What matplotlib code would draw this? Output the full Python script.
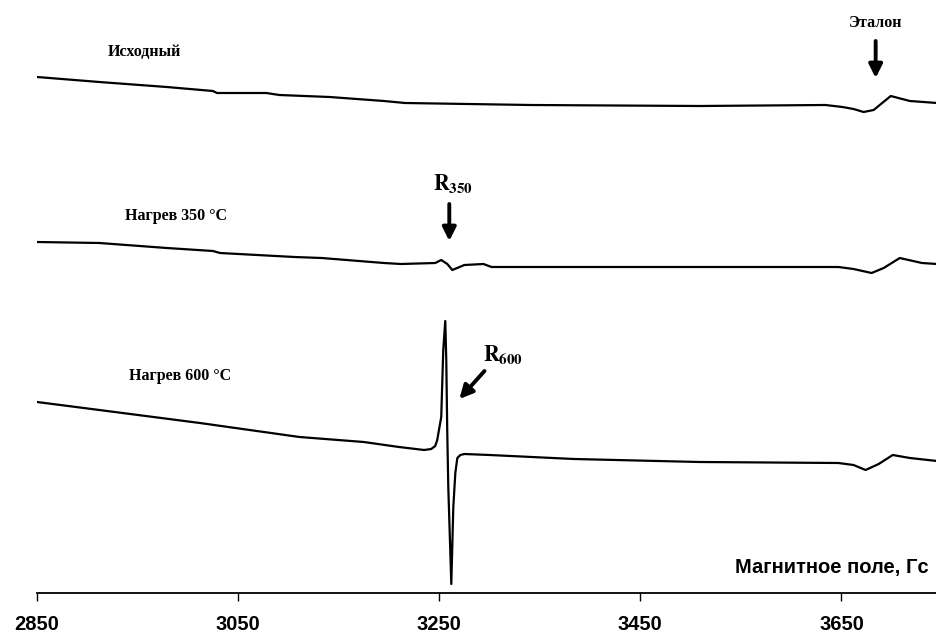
"""
ЭПР-спектры: исходный образец и после нагрева 350 / 600 °C.
"""

import matplotlib
matplotlib.use('Agg')
import matplotlib.pyplot as plt

plt.rcParams['font.family'] = ['Liberation Sans', 'DejaVu Sans']
plt.rcParams['mathtext.fontset'] = 'stix'

# --- data (field in Gs, signal in arbitrary units, curves already offset) ---
field_init = [2850, 2912, 2979, 3025, 3029, 3078, 3091, 3141, 3195, 3216,
              3341, 3509, 3634, 3651, 3662, 3672, 3682, 3699, 3718, 3745]
signal_init = [516, 511, 506, 502, 500, 500, 498, 496, 492, 490,
               488, 487, 488, 486, 484, 481, 483, 497, 492, 490]

field_350 = [2850, 2912, 2979, 3025, 3032, 3106, 3133, 3195, 3212, 3246,
             3252, 3258, 3263, 3275, 3294, 3302, 3409, 3647, 3662, 3680,
             3692, 3708, 3730, 3745]
signal_350 = [351, 350, 345, 342, 340, 336, 335, 330, 329, 330,
              333, 329, 323, 328, 329, 326, 326, 326, 324, 320,
              325, 335, 330, 329]

field_600 = [2850, 2912, 3012, 3111, 3175, 3210, 3235, 3242, 3246, 3248,
             3252, 3253, 3254, 3256, 3257, 3258, 3259, 3262, 3264, 3266,
             3268, 3271, 3275, 3300, 3384, 3509, 3647, 3662, 3674, 3687,
             3701, 3718, 3745]
signal_600 = [191, 183, 170, 156, 151, 146, 143, 144, 147, 153,
              176, 210, 243, 272, 233, 160, 106, 9, 86, 120,
              135, 138, 139, 138, 134, 131, 130, 128, 123, 129,
              138, 135, 132]

xticks = [2850, 3050, 3250, 3450, 3650]

serif = ['Liberation Serif', 'DejaVu Serif']

fig = plt.figure(figsize=(9.37, 6.35), dpi=100)
ax = fig.add_axes([37 / 937, 1 - 593 / 635, 1 - 37 / 937, 593 / 635])

for f, s in [(field_init, signal_init), (field_350, signal_350), (field_600, signal_600)]:
    ax.plot(f, s, color='black', lw=1.6, solid_joinstyle='round')

ax.set_xlim(2850, 3745)
ax.set_ylim(0, 593)

for side in ['top', 'right', 'left']:
    ax.spines[side].set_visible(False)
ax.spines['bottom'].set_linewidth(1.3)
ax.set_yticks([])
ax.set_xticks(xticks)
ax.set_xticklabels([str(t) for t in xticks], fontsize=14.5, fontweight='bold')
ax.tick_params(axis='x', direction='out', length=6, width=1, pad=10)

# curve labels
ax.text(2957, 541, 'Исходный', family=serif, fontsize=11.5, fontweight='bold',
        ha='center', va='center')
ax.text(2988, 377, 'Нагрев 350 °C', family=serif, fontsize=11.5, fontweight='bold',
        ha='center', va='center')
ax.text(2992, 217, 'Нагрев 600 °C', family=serif, fontsize=11.5, fontweight='bold',
        ha='center', va='center')

# arrows and marker labels
arrow = dict(arrowstyle='-|>', lw=2.8, color='black', mutation_scale=20,
             shrinkA=0, shrinkB=0)
ax.text(3684, 570, 'Эталон', family=serif, fontsize=11.5, fontweight='bold',
        ha='center', va='center')
ax.annotate('', xy=(3684, 515), xytext=(3684, 552), arrowprops=arrow)

ax.text(3264, 402, r'$\mathbf{R_{350}}$', fontsize=15.5, ha='center', va='baseline')
ax.annotate('', xy=(3260, 352), xytext=(3260, 389), arrowprops=arrow)

ax.text(3294, 231, r'$\mathbf{R_{600}}$', fontsize=15.5, ha='left', va='baseline')
ax.annotate('', xy=(3270, 194), xytext=(3295, 222), arrowprops=arrow)

ax.text(3737, 26, 'Магнитное поле, Гс', fontsize=14.5, fontweight='bold',
        ha='right', va='center')

fig.savefig('out.png', dpi=100)
